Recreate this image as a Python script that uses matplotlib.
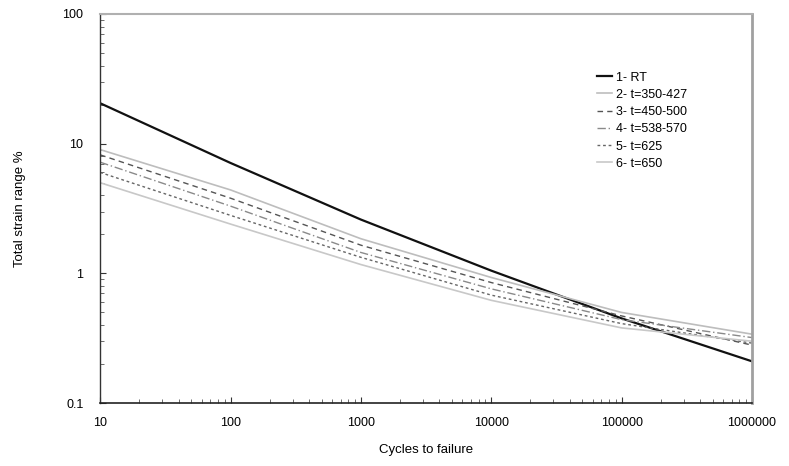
import matplotlib
matplotlib.use("Agg")
import matplotlib.pyplot as plt
from matplotlib.ticker import FixedLocator, LogLocator, NullFormatter

plt.rcParams['font.family'] = ['Liberation Sans', 'DejaVu Sans']

cycles = [10, 100, 1000, 10000, 100000, 1000000]
labels = ["1- RT", "2- t=350-427", "3- t=450-500", "4- t=538-570", "5- t=625", "6- t=650"]
rt = [20.5, 7.1, 2.6, 1.05, 0.45, 0.21]
s2 = [9.0, 4.4, 1.85, 0.93, 0.50, 0.34]
s3 = [8.2, 3.8, 1.65, 0.85, 0.47, 0.28]
s4 = [7.2, 3.3, 1.45, 0.76, 0.44, 0.32]
s5 = [6.0, 2.8, 1.33, 0.68, 0.41, 0.29]
s6 = [5.0, 2.4, 1.17, 0.62, 0.38, 0.30]
yticks = [0.1, 1, 10, 100]
ytick_labels = ["0.1", "1", "10", "100"]
xtick_labels = ["10", "100", "1000", "10000", "100000", "1000000"]

series = [rt, s2, s3, s4, s5, s6]
styles = [
    dict(color="#111111", lw=1.6, ls="-"),
    dict(color="#bdbdbd", lw=1.2, ls="-"),
    dict(color="#555555", lw=1.0, ls=(0, (4, 3))),
    dict(color="#8a8a8a", lw=1.0, ls=(0, (6, 2, 1, 2))),
    dict(color="#666666", lw=1.0, ls=(0, (2, 2))),
    dict(color="#c8c8c8", lw=1.2, ls="-"),
]

fig = plt.figure(figsize=(7.89, 4.66), dpi=100)
ax = fig.add_axes([0.127, 0.135, 0.826, 0.835])
for lab, ys, st in zip(labels, series, styles):
    ax.plot(cycles, ys, label=lab, **st)

ax.set_xscale("log")
ax.set_yscale("log")
ax.set_xlim(10, 1000000)
ax.set_ylim(0.1, 100)
ax.xaxis.set_major_locator(FixedLocator(cycles))
ax.set_xticklabels(xtick_labels)
ax.yaxis.set_major_locator(FixedLocator(yticks))
ax.set_yticklabels(ytick_labels)
ax.xaxis.set_minor_locator(LogLocator(base=10, subs=range(2, 10)))
ax.yaxis.set_minor_locator(LogLocator(base=10, subs=range(2, 10)))
ax.xaxis.set_minor_formatter(NullFormatter())
ax.yaxis.set_minor_formatter(NullFormatter())
ax.tick_params(which="major", direction="in", length=4, width=0.8, labelsize=9, color="#333333")
ax.tick_params(which="minor", direction="in", length=3, width=0.6, color="#555555")
ax.tick_params(axis="x", which="major", pad=10)
ax.tick_params(axis="y", which="major", pad=12)

ax.spines["left"].set_color("#333333")
ax.spines["bottom"].set_color("#222222")
ax.spines["left"].set_linewidth(1.0)
ax.spines["bottom"].set_linewidth(1.2)
ax.spines["top"].set_color("#b0b0b0")
ax.spines["top"].set_linewidth(1.5)
ax.spines["right"].set_color("#a0a0a0")
ax.spines["right"].set_linewidth(2.0)

ax.set_xlabel("Cycles to failure", fontsize=9.5, labelpad=11)
ax.set_ylabel("Total strain range %", fontsize=9.5, labelpad=26)

leg = ax.legend(loc="upper left", bbox_to_anchor=(0.755, 0.865), frameon=False,
                fontsize=9, handlelength=1.2, handletextpad=0.3, labelspacing=0.42,
                borderaxespad=0)

fig.savefig("out.png", dpi=100)
